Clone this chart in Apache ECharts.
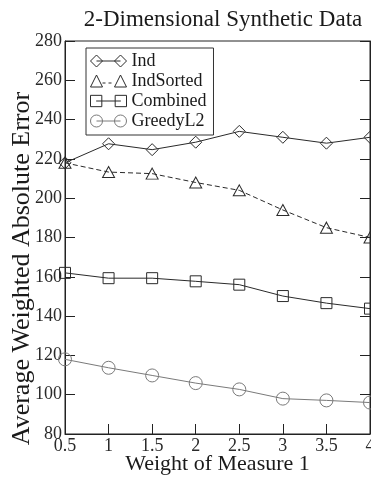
<!DOCTYPE html>
<html>
<head>
<meta charset="utf-8">
<script src="https://cdn.jsdelivr.net/npm/echarts@6/dist/echarts.min.js"></script>
<style>
  html, body { margin: 0; padding: 0; background: #fff; }
  #chart { width: 371px; height: 477px; }
</style>
</head>
<body>
<div id="chart"></div>
<script>
// Weight of measure 1 (x values)
const weights = [0.5, 1, 1.5, 2, 2.5, 3, 3.5, 4];

// Average weighted absolute error per method
const ind       = [218, 227.7, 224.7, 228.5, 234, 231, 228, 231];
const indSorted = [218, 213.3, 212.5, 208, 204, 194, 185, 180];
const combined  = [162, 159.3, 159.3, 157.7, 156, 150.2, 146.6, 143.8];
const greedyL2  = [118, 113.7, 109.8, 105.9, 102.7, 98, 97.1, 96];

const seriesNames = ['Ind', 'IndSorted', 'Combined', 'GreedyL2'];

const serif = "'Liberation Serif', 'DejaVu Serif', 'Times New Roman', serif";

function pairs(ys) {
  return weights.map((x, i) => [x, ys[i]]);
}

// Legend icons: marker - line - marker, like the plot key
const icons = {
  Ind: 'path://M0 6 L6 0 L12 6 L6 12 Z M6 6 L30 6 M24 6 L30 0 L36 6 L30 12 Z',
  IndSorted: 'path://M0 12 L6 0 L12 12 Z M12 8 L15 8 M18 8 L21 8 M24 12 L30 0 L36 12 Z',
  Combined: 'path://M0.5 0.5 L11.5 0.5 L11.5 11.5 L0.5 11.5 Z M6 6 L30 6 M24.5 0.5 L35.5 0.5 L35.5 11.5 L24.5 11.5 Z',
  GreedyL2: 'path://M0 6 A6 6 0 1 0 12 6 A6 6 0 1 0 0 6 Z M6 6 L30 6 M24 6 A6 6 0 1 0 36 6 A6 6 0 1 0 24 6 Z'
};

const colors = {
  Ind: '#2a2a2a',
  IndSorted: '#2a2a2a',
  Combined: '#2a2a2a',
  GreedyL2: '#7a7a7a'
};

function lineSeries(name, ys, symbol, size, dashed) {
  return {
    name: name,
    type: 'line',
    data: pairs(ys),
    symbol: symbol,
    symbolSize: size,
    showAllSymbol: true,
    lineStyle: { color: colors[name], width: 1, type: dashed ? [5, 3] : 'solid' },
    itemStyle: { color: 'rgba(0,0,0,0)', borderColor: colors[name], borderWidth: 1 },
    emphasis: { disabled: true },
    animation: false
  };
}

const chart = echarts.init(document.getElementById('chart'), null, { renderer: 'canvas' });

chart.setOption({
  backgroundColor: '#fff',
  animation: false,
  title: {
    text: '2-Dimensional Synthetic Data',
    left: 218,
    top: 3,
    textAlign: 'center',
    textStyle: { fontFamily: serif, fontSize: 23, fontWeight: 'normal', color: '#1a1a1a' }
  },
  legend: {
    left: 86,
    top: 48,
    orient: 'vertical',
    padding: [4, 7, 5, 4],
    itemGap: 2,
    itemWidth: 36,
    itemHeight: 12,
    borderColor: '#333',
    borderWidth: 1,
    backgroundColor: '#fff',
    textStyle: { fontFamily: serif, fontSize: 18, color: '#1a1a1a', lineHeight: 17 },
    data: seriesNames.map(n => ({
      name: n,
      icon: icons[n],
      itemStyle: { color: 'rgba(0,0,0,0)', borderColor: colors[n], borderWidth: 1 }
    }))
  },
  grid: {
    left: 65,
    right: 1,
    top: 41,
    bottom: 43,
    outerBoundsMode: 'none',
    containLabel: false,
    show: true,
    borderColor: '#222',
    borderWidth: 1,
    backgroundColor: 'transparent'
  },
  xAxis: {
    type: 'value',
    min: 0.5,
    max: 4,
    interval: 0.5,
    name: 'Weight of Measure 1',
    nameLocation: 'middle',
    nameGap: 19,
    nameMoveOverlap: false,
    nameTextStyle: { fontFamily: serif, fontSize: 22, color: '#1a1a1a' },
    axisLine: { lineStyle: { color: '#222' } },
    axisTick: { inside: true, length: 10, lineStyle: { color: '#222' } },
    axisLabel: { fontFamily: serif, fontSize: 18, color: '#2a2a2a', margin: 3 },
    splitLine: { show: false }
  },
  yAxis: [{
    type: 'value',
    min: 80,
    max: 280,
    interval: 20,
    name: 'Average Weighted Absolute Error',
    nameLocation: 'middle',
    nameGap: 30,
    nameMoveOverlap: false,
    nameTextStyle: { fontFamily: serif, fontSize: 26, color: '#1a1a1a', padding: [0, 62, 0, 0] },
    axisLine: { show: true, lineStyle: { color: '#222' } },
    axisTick: { inside: true, length: 10, lineStyle: { color: '#222' } },
    axisLabel: { fontFamily: serif, fontSize: 18, color: '#2a2a2a', margin: 3 },
    splitLine: { show: false }
  }, {
    type: 'value',
    position: 'right',
    min: 80,
    max: 280,
    interval: 20,
    axisLine: { show: true, lineStyle: { color: '#222' } },
    axisTick: { inside: true, length: 10, lineStyle: { color: '#222' } },
    axisLabel: { show: false },
    splitLine: { show: false }
  }],
  series: [
    lineSeries('Ind', ind, 'diamond', [12, 12], false),
    lineSeries('IndSorted', indSorted, 'triangle', [12, 11], true),
    lineSeries('Combined', combined, 'rect', [11, 11], false),
    lineSeries('GreedyL2', greedyL2, 'circle', 13, false)
  ]
});
</script>
</body>
</html>
